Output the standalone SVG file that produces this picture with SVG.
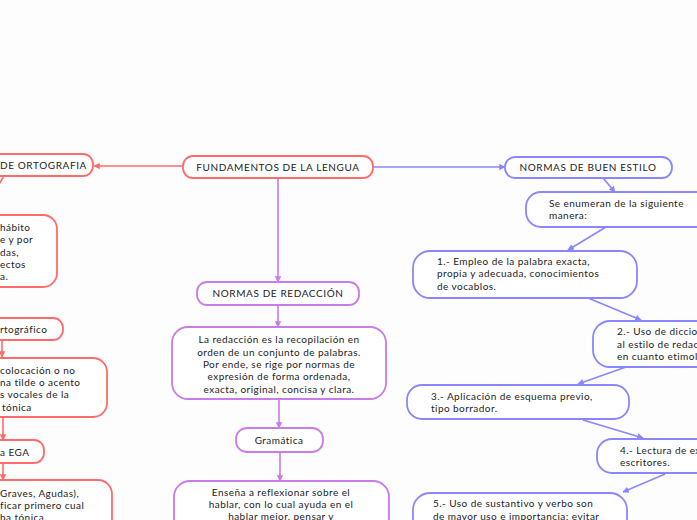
<svg xmlns="http://www.w3.org/2000/svg" width="697" height="520" viewBox="0 0 697 520">
<defs>
<style>
text{font-family:Lato,"Open Sans","Liberation Sans",sans-serif;font-size:10px;letter-spacing:0.45px;fill:#222;}
.t{letter-spacing:0.6px;}
.r{fill:#fff;stroke:#ff6b6b;stroke-width:1.8;}
.p{fill:#fff;stroke:#c97be8;stroke-width:1.8;}
.b{fill:#fff;stroke:#8a86ff;stroke-width:1.8;}
.lr{stroke:#ff6b6b;stroke-width:1.6;fill:none;}
.lp{stroke:#c97be8;stroke-width:1.6;fill:none;}
.lb{stroke:#8a86ff;stroke-width:1.6;fill:none;}
.c{text-anchor:middle;}
</style>
<marker id="ar" viewBox="0 0 10 10" refX="9" refY="5" markerWidth="4" markerHeight="4" orient="auto"><path d="M0,0L10,5L0,10z" fill="#ff6b6b"/></marker>
<marker id="ap" viewBox="0 0 10 10" refX="9" refY="5" markerWidth="4" markerHeight="4" orient="auto"><path d="M0,0L10,5L0,10z" fill="#c97be8"/></marker>
<marker id="ab" viewBox="0 0 10 10" refX="9" refY="5" markerWidth="4" markerHeight="4" orient="auto"><path d="M0,0L10,5L0,10z" fill="#8a86ff"/></marker>
</defs>
<rect width="697" height="520" fill="#fdfdfd"/>
<g id="connectors">
<path class="lr" d="M183,166H94" marker-end="url(#ar)"/>
<path class="lr" d="M4,176L-2,186"/>
<path class="lr" d="M2,340V357" marker-end="url(#ar)"/>
<path class="lr" d="M3,417V440" marker-end="url(#ar)"/>
<path class="lr" d="M3,463V480" marker-end="url(#ar)"/>
<path class="lp" d="M278,178V282" marker-end="url(#ap)"/>
<path class="lp" d="M278,305V327" marker-end="url(#ap)"/>
<path class="lp" d="M279,399V428" marker-end="url(#ap)"/>
<path class="lp" d="M280,452V481" marker-end="url(#ap)"/>
<path class="lb" d="M373,167H505" marker-end="url(#ab)"/>
<path class="lb" d="M603,178L615,192" marker-end="url(#ab)"/>
<path class="lb" d="M606,227L568,250" marker-end="url(#ab)"/>
<path class="lb" d="M588,298L641,320" marker-end="url(#ab)"/>
<path class="lb" d="M626,367L578,384" marker-end="url(#ab)"/>
<path class="lb" d="M583,420L643,438" marker-end="url(#ab)"/>
<path class="lb" d="M665,474L623,492" marker-end="url(#ab)"/>
</g>
<g id="n-fundamentos"><rect class="r" x="183" y="156" width="190" height="22" rx="10"/><text class="t c" x="278" y="171">FUNDAMENTOS DE LA LENGUA</text></g>
<g id="n-ortografia"><rect class="r" x="-40" y="154" width="133" height="22" rx="10"/><text class="t" x="0" y="169">DE ORTOGRAFIA</text></g>
<g id="n-orto-def"><rect class="r" x="-150" y="215" width="207" height="72" rx="14"/>
<text x="0" y="231">hábito</text><text x="0" y="243">e y por</text><text x="0" y="256">das,</text><text x="0" y="268">ectos</text><text x="0" y="280">a.</text></g>
<g id="n-acento"><rect class="r" x="-60" y="318" width="123" height="22" rx="10"/><text x="0" y="333">rtográfico</text></g>
<g id="n-acento-def"><rect class="r" x="-120" y="358" width="227" height="59" rx="14"/>
<text x="0" y="374">colocación o no</text><text x="0" y="386">na tilde o acento</text><text x="0" y="398">s vocales de la</text><text x="2" y="411">tónica</text></g>
<g id="n-ega"><rect class="r" x="-40" y="440" width="84" height="23" rx="10"/><text x="0" y="456">a EGA</text></g>
<g id="n-ega-def"><rect class="r" x="-120" y="480" width="232" height="60" rx="14"/>
<text x="0" y="497">Graves, Agudas),</text><text x="0" y="509">ficar primero cual</text><text x="0" y="521">ba tónica.</text></g>
<g id="n-redaccion"><rect class="p" x="197" y="282" width="162" height="23" rx="10"/><text class="t c" x="278" y="297">NORMAS DE REDACCIÓN</text></g>
<g id="n-redaccion-def"><rect class="p" x="172" y="327" width="214" height="72" rx="16"/>
<text class="c" x="279" y="343">La redacción es la recopilación en</text>
<text class="c" x="279" y="356">orden de un conjunto de palabras.</text>
<text class="c" x="279" y="368">Por ende, se rige por normas de</text>
<text class="c" x="279" y="380">expresión de forma ordenada,</text>
<text class="c" x="279" y="393">exacta, original, concisa y clara.</text></g>
<g id="n-gramatica"><rect class="p" x="236" y="428" width="87" height="24" rx="11"/><text class="c" x="279" y="444">Gramática</text></g>
<g id="n-gramatica-def"><rect class="p" x="174" y="481" width="215" height="70" rx="16"/>
<text class="c" x="281" y="496">Enseña a reflexionar sobre el</text>
<text class="c" x="281" y="508">hablar, con lo cual ayuda en el</text>
<text class="c" x="281" y="520">hablar mejor, pensar y</text></g>
<g id="n-buen-estilo"><rect class="b" x="505" y="157" width="167" height="21" rx="10"/><text class="t c" x="588" y="171">NORMAS DE BUEN ESTILO</text></g>
<g id="n-enumeran"><rect class="b" x="526" y="192" width="190" height="35" rx="15"/><text x="549" y="207">Se enumeran de la siguiente</text><text x="549" y="219">manera:</text></g>
<g id="n-1"><rect class="b" x="413" y="251" width="224" height="47" rx="17"/><text x="437" y="265">1.- Empleo de la palabra exacta,</text><text x="437" y="277">propia y adecuada, conocimientos</text><text x="437" y="290">de vocablos.</text></g>
<g id="n-2"><rect class="b" x="593" y="321" width="180" height="46" rx="17"/><text x="617" y="335">2.- Uso de diccionario</text><text x="617" y="348">al estilo de redacción</text><text x="617" y="360">en cuanto etimología.</text></g>
<g id="n-3"><rect class="b" x="407" y="385" width="222" height="34" rx="15"/><text x="431" y="400">3.- Aplicación de esquema previo,</text><text x="431" y="412">tipo borrador.</text></g>
<g id="n-4"><rect class="b" x="597" y="439" width="180" height="34" rx="15"/><text x="620" y="454">4.- Lectura de excelentes</text><text x="620" y="466">escritores.</text></g>
<g id="n-5"><rect class="b" x="413" y="493" width="214" height="60" rx="17"/><text x="433" y="507">5.- Uso de sustantivo y verbo son</text><text x="433" y="520">de mayor uso e importancia; evitar</text></g>
</svg>
